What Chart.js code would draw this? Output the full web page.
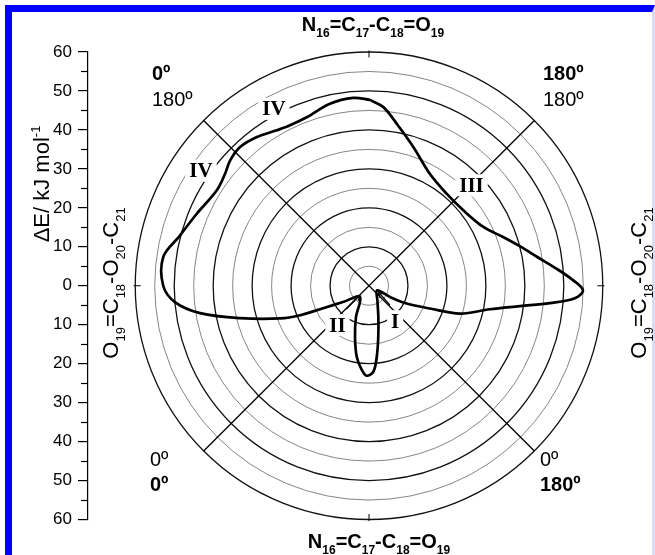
<!DOCTYPE html>
<html>
<head>
<meta charset="utf-8">
<script src="https://cdn.jsdelivr.net/npm/chart.js@4.4.1/dist/chart.umd.min.js"></script>
<style>
  html, body { margin: 0; padding: 0; background: #fff; }
  #wrap { position: relative; width: 655px; height: 555px; overflow: hidden; }
  #frame {
    position: absolute; left: 5px; top: 5px; right: 0; bottom: -20px;
    border-top: 7px solid #0000fe; border-left: 7px solid #0000fe; border-right: 3px solid #dcdcf4;
  }
  canvas { position: absolute; left: 0; top: 0; }
</style>
</head>
<body>
<div id="wrap">
  <div id="frame"></div>
  <canvas id="chart" width="655" height="555"></canvas>
</div>
<script>
// ── Datos ──────────────────────────────────────────────────────────────────
// ángulo (grados, horario desde arriba) y energía relativa (kJ/mol), en orden de trazo
const ANGLE_DEG = [0.3, 4.6, 9.7, 17.7, 28.5, 40.1, 51.3, 62.8, 70.0, 75.3, 80.4, 84.7, 88.2,
  91.2, 93.5, 95.5, 97.7, 101, 107, 110.5, 115.3, 118, 120, 150, 163.4, 169.7, 173.8, 177.1,
  181.5, 184.9, 189.8, 195.3, 202.6, 219, 238, 243.9, 246.8, 249.8, 255.9, 260.8, 265.1, 270,
  278, 284.6, 292.7, 302.1, 307.9, 312.1, 317.1, 323.0, 329.3, 333.8, 339.7, 347.9, 355.2, 360.3];
const DELTA_E = [47.7, 46.0, 42.2, 37.4, 32.7, 30.9, 31.0, 33.0, 36.6, 40.0, 43.9, 48.2, 52.1,
  54.9, 52.9, 46.6, 39.1, 31.6, 24.4, 16.7, 10.7, 6.1, 2.4, 4.3, 8.4, 13.3, 18.4, 22.1,
  23.1, 21.7, 18.5, 13.6, 8.7, 3.7, 7.9, 13.1, 19.2, 24.3, 34.1, 43.9, 49.9, 52.8,
  53.3, 50.3, 47.9, 46.1, 46.8, 48.0, 48.6, 47.8, 46.4, 45.9, 46.1, 47.8, 48.4, 47.7];

const RINGS      = [5, 10, 15, 20, 25, 30, 35, 40, 45, 50, 55, 60];
const SPOKES     = [45, 135, 225, 315];
const EDGE_TICKS = [0, 90, 180, 270];
const Y_MIN = -60, Y_MAX = 60;

// etiquetas de mínimos / regiones (coordenadas de datos)
const REGION_LABELS = ['IV', 'IV', 'III', 'II', 'I'];
const REGION_X      = [-24.4, -43.1, 26.3, -8.1, 6.7];
const REGION_Y      = [45.4, 29.5, 25.8, -10.1, -9.1];
// flechas de II y I: desde -> hasta
const ARROWS = [
  { from: [-5.8, -6.0], to: [-2.3, -2.4] },
  { from: [5.4, -5.0],  to: [2.4, -1.6] },
];

// ── Utils ──────────────────────────────────────────────────────────────────
const SANS  = "Arial, 'Liberation Sans', sans-serif";
const SERIF = "'Times New Roman', 'Liberation Serif', serif";

function _toXY(deg, r) {
  const a = deg * Math.PI / 180;
  return { x: r * Math.sin(a), y: r * Math.cos(a) };
}

// texto con subíndices (_16) y superíndices (^-1)
function _rich(ctx, str, x, y, size, bold, align) {
  const w = bold ? 'bold ' : '';
  const small = Math.round(size * 0.58);
  const parts = str.split(/(_\d+|\^[-\d]+)/).filter(Boolean).map(p =>
    p[0] === '_' ? { t: p.slice(1), dy: size * 0.3 } :
    p[0] === '^' ? { t: p.slice(1), dy: -size * 0.42 } :
    { t: p, dy: 0 });
  let total = 0;
  parts.forEach(p => {
    ctx.font = `${w}${p.dy ? small : size}px ${SANS}`;
    p.w = ctx.measureText(p.t).width;
    total += p.w;
  });
  let cx = align === 'center' ? x - total / 2 : x;
  ctx.textAlign = 'left';
  ctx.textBaseline = 'alphabetic';
  parts.forEach(p => {
    ctx.font = `${w}${p.dy ? small : size}px ${SANS}`;
    ctx.fillText(p.t, cx, y + p.dy);
    cx += p.w;
  });
}

// ── Plugins ────────────────────────────────────────────────────────────────
const polarGrid = {
  id: 'polarGrid',
  beforeDatasetsDraw(chart) {
    const { ctx, scales: { x, y } } = chart;
    const cx = x.getPixelForValue(0), cy = y.getPixelForValue(0);
    const k  = cy - y.getPixelForValue(1);
    const px = (dx, dy) => [x.getPixelForValue(dx), y.getPixelForValue(dy)];
    ctx.save();

    RINGS.forEach(r => {
      const major = r % 10 === 0;
      ctx.beginPath();
      ctx.arc(cx, cy, r * k, 0, Math.PI * 2);
      ctx.strokeStyle = major ? '#111' : '#777';
      ctx.lineWidth   = major ? 1.3 : 0.9;
      ctx.stroke();
    });

    ctx.strokeStyle = '#000';
    ctx.lineWidth = 1.3;
    SPOKES.forEach(a => {
      const p = _toXY(a, RINGS[RINGS.length - 1]);
      ctx.beginPath();
      ctx.moveTo(cx, cy);
      ctx.lineTo(...px(p.x, p.y));
      ctx.stroke();
    });

    ctx.lineWidth = 1;
    EDGE_TICKS.forEach(a => {
      const p1 = _toXY(a, 58.6), p2 = _toXY(a, 60.4);
      ctx.beginPath();
      ctx.moveTo(...px(p1.x, p1.y));
      ctx.lineTo(...px(p2.x, p2.y));
      ctx.stroke();
    });

    // etiquetas romanas con fondo blanco
    ctx.font = `bold 21px ${SERIF}`;
    ctx.textAlign = 'center';
    ctx.textBaseline = 'middle';
    REGION_LABELS.forEach((t, i) => {
      const [lx, ly] = px(REGION_X[i], REGION_Y[i]);
      const w = ctx.measureText(t).width;
      ctx.fillStyle = '#fff';
      ctx.fillRect(lx - w / 2 - 4, ly - 11, w + 8, 22);
      ctx.fillStyle = '#000';
      ctx.fillText(t, lx, ly + 1);
    });

    ctx.lineWidth = 1.2;
    ARROWS.forEach(a => {
      const [x1, y1] = px(...a.from), [x2, y2] = px(...a.to);
      const ang = Math.atan2(y2 - y1, x2 - x1);
      ctx.beginPath();
      ctx.moveTo(x1, y1);
      ctx.lineTo(x2, y2);
      ctx.moveTo(x2 - 6 * Math.cos(ang - 0.45), y2 - 6 * Math.sin(ang - 0.45));
      ctx.lineTo(x2, y2);
      ctx.lineTo(x2 - 6 * Math.cos(ang + 0.45), y2 - 6 * Math.sin(ang + 0.45));
      ctx.stroke();
    });
    ctx.restore();
  },
  afterDraw(chart) {
    const { ctx, scales: { y } } = chart;
    ctx.save();
    ctx.fillStyle = '#000';

    // ticks menores del eje izquierdo
    ctx.strokeStyle = '#000';
    ctx.lineWidth = 1.2;
    for (let v = Y_MIN + 5; v < Y_MAX; v += 10) {
      const py = Math.round(y.getPixelForValue(v)) + 0.5;
      ctx.beginPath();
      ctx.moveTo(y.right - 7, py);
      ctx.lineTo(y.right, py);
      ctx.stroke();
    }

    // títulos de ángulos diedros
    _rich(ctx, 'N_16=C_17-C_18=O_19', 373, 31, 20, true, 'center');
    _rich(ctx, 'N_16=C_17-C_18=O_19', 379, 548, 20, true, 'center');

    const side = (tx, ty) => {
      ctx.save();
      ctx.translate(tx, ty);
      ctx.rotate(-Math.PI / 2);
      _rich(ctx, 'O_19=C_18-O_20-C_21', 0, 0, 22, false, 'center');
      ctx.restore();
    };
    side(118, 283);
    side(646, 283);

    ctx.save();
    ctx.translate(49, 184);
    ctx.rotate(-Math.PI / 2);
    _rich(ctx, 'ΔE/ kJ mol^-1', 0, 0, 22, false, 'center');
    ctx.restore();

    // esquinas
    const corner = (t, x0, y0, bold) => {
      ctx.font = `${bold ? 'bold ' : ''}20px ${SANS}`;
      ctx.textAlign = 'left';
      ctx.textBaseline = 'alphabetic';
      ctx.fillText(t, x0, y0);
    };
    corner('0º', 152, 80, true);
    corner('180º', 152, 106, false);
    corner('180º', 543, 80, true);
    corner('180º', 543, 106, false);
    corner('0º', 150, 466, false);
    corner('0º', 150, 491, true);
    corner('0º', 540, 466, false);
    corner('180º', 540, 491, true);
    ctx.restore();
  }
};

// ── Chart ──────────────────────────────────────────────────────────────────
const curve = ANGLE_DEG.map((a, i) => _toXY(a, DELTA_E[i]));

new Chart(document.getElementById('chart'), {
  type: 'scatter',
  data: {
    datasets: [{
      data: curve,
      showLine: true,
      borderColor: '#000',
      borderWidth: 2.7,
      pointRadius: 0,
      tension: 0.35,
      fill: false,
    }]
  },
  options: {
    responsive: false,
    animation: false,
    devicePixelRatio: 1,
    layout: { padding: { top: 52, bottom: 35.5, left: 0, right: 5 } },
    plugins: { legend: { display: false }, tooltip: { enabled: false } },
    scales: {
      x: { type: 'linear', display: false, min: -72.1, max: 72.1 },
      y: {
        type: 'linear',
        min: Y_MIN, max: Y_MAX,
        afterFit: s => { s.width = 88; },
        border: { display: true, color: '#000', width: 1.2 },
        grid: { drawOnChartArea: false, tickLength: 10, color: '#000', tickColor: '#000', lineWidth: 1.2 },
        ticks: {
          stepSize: 10, padding: 6, color: '#000',
          font: { family: SANS, size: 17 },
          callback: v => Math.abs(v),
        },
      },
    },
  },
  plugins: [polarGrid],
});
</script>
</body>
</html>
